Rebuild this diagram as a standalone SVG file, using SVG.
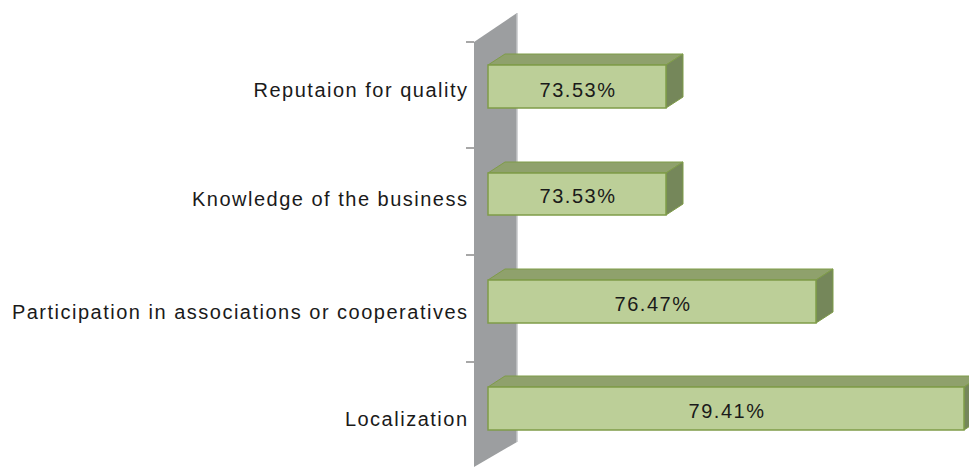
<svg xmlns="http://www.w3.org/2000/svg" width="969" height="467" viewBox="0 0 969 467">
<style>
.lbl{font-family:"Liberation Sans",Arial,sans-serif;font-size:20px;letter-spacing:1.5px;fill:#1a1a1a}
.cat{text-anchor:end}
.val{text-anchor:middle}
.front{fill:#bccf98;stroke:#7f9c48;stroke-width:1.5}
.top{fill:#8fa16c;stroke:#7f9c48;stroke-width:1}
.side{fill:#75875a;stroke:#7f9c48;stroke-width:1}
.tick{stroke:#8a8a8a;stroke-width:1.5}
</style>
<rect width="969" height="467" fill="#ffffff"/>
<g id="axis">
<polygon points="474,42 517,13 517,442 474,467" fill="#9c9ea0"/>
<line x1="517" y1="13" x2="517" y2="442" stroke="#c4c6c8" stroke-width="1.5"/>
<line class="tick" x1="466" y1="42" x2="474" y2="42"/>
<line class="tick" x1="466" y1="148" x2="474" y2="148"/>
<line class="tick" x1="466" y1="255" x2="474" y2="255"/>
<line class="tick" x1="466" y1="362" x2="474" y2="362"/>
</g>
<g id="connectors"></g>
<g id="bar1">
<polygon class="top" points="488,65 505,54 683,54 666,65"/>
<polygon class="side" points="666,65 683,54 683,97 666,108"/>
<rect class="front" x="488" y="65" width="178" height="43"/>
<text class="lbl val" x="578" y="97">73.53%</text>
<text class="lbl cat" x="468.5" y="97">Reputaion for quality</text>
</g>
<g id="bar2">
<polygon class="top" points="488,173 505,162 683,162 666,173"/>
<polygon class="side" points="666,173 683,162 683,204 666,215"/>
<rect class="front" x="488" y="173" width="178" height="42"/>
<text class="lbl val" x="578" y="203">73.53%</text>
<text class="lbl cat" x="468.5" y="206">Knowledge of the business</text>
</g>
<g id="bar3">
<polygon class="top" points="488,280 505,269 833,269 816,280"/>
<polygon class="side" points="816,280 833,269 833,312 816,323"/>
<rect class="front" x="488" y="280" width="328" height="43"/>
<text class="lbl val" x="653" y="311">76.47%</text>
<text class="lbl cat" x="468.5" y="319">Participation in associations or cooperatives</text>
</g>
<g id="bar4">
<polygon class="top" points="488,387 505,376 981,376 964,387"/>
<polygon class="side" points="964,387 981,376 981,419 964,430"/>
<rect class="front" x="488" y="387" width="476" height="43"/>
<text class="lbl val" x="727" y="418">79.41%</text>
<text class="lbl cat" x="468.5" y="426">Localization</text>
</g>
</svg>
